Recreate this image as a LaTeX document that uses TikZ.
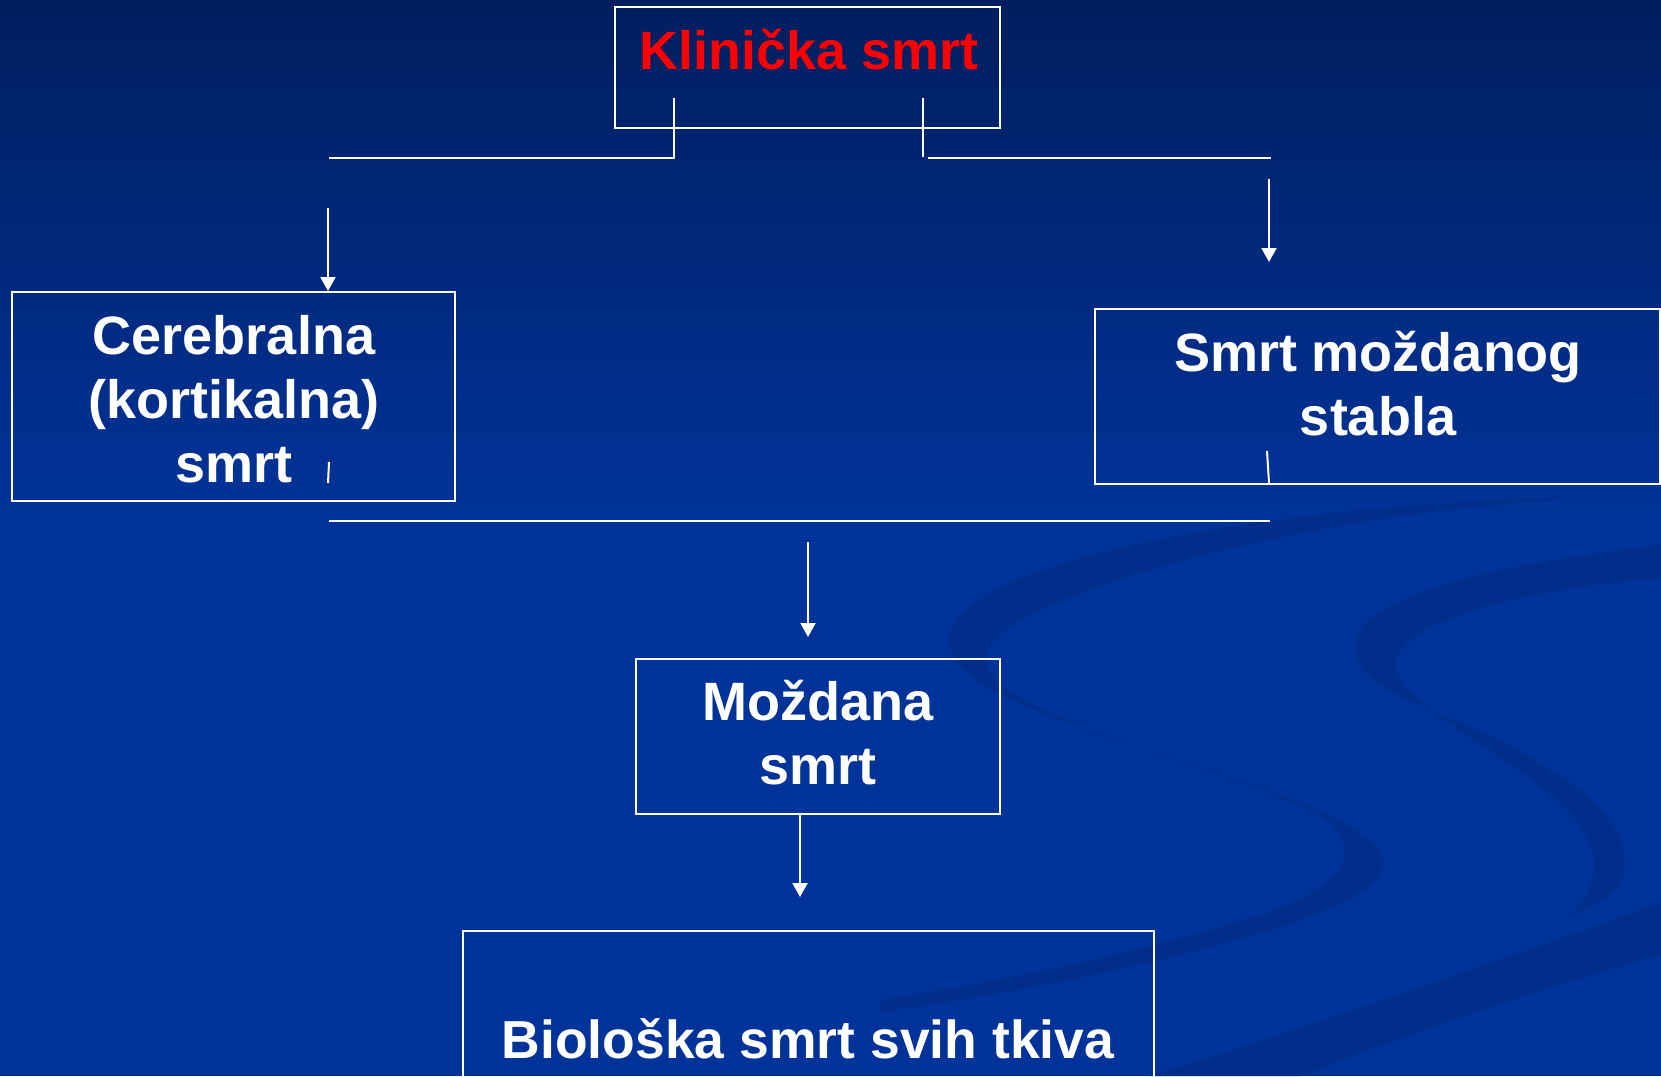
\documentclass[tikz,border=0pt]{standalone}
\usepackage{fontspec}
\setmainfont{Liberation Sans}
\usetikzlibrary{arrows.meta}
\definecolor{SlideTop}{RGB}{0,30,95}
\definecolor{SlideBlue}{RGB}{0,51,153}
\definecolor{SlideSwirl}{RGB}{0,46,138}
\definecolor{KRed}{RGB}{255,0,0}

\begin{document}
\begin{tikzpicture}[x=1pt,y=-1pt,
    box/.style={draw=white,line width=2pt,inner sep=0pt},
    txt/.style={text=white,font=\fontsize{54pt}{64pt}\selectfont\bfseries,align=center,anchor=base,inner sep=0pt},
    ln/.style={white,line width=2pt},
    arr/.style={white,line width=2pt,-{Triangle[width=15pt,length=14pt]}}]
    \useasboundingbox (0,0) rectangle (1661,1076);
    \clip (0,0) rectangle (1661,1076);
    % slide background
    \fill[SlideBlue] (0,0) rectangle (1661,1076);
    \shade[top color=SlideTop,bottom color=SlideBlue] (0,0) rectangle (1661,520);
    % swirls
    \fill[SlideSwirl] (1560,497) .. controls (1300,505) and (1020,550) .. (960,615)
      .. controls (930,650) and (960,680) .. (1040,712)
      .. controls (1150,755) and (1330,800) .. (1375,845)
      .. controls (1410,885) and (1330,915) .. (1200,950)
      .. controls (1100,975) and (1000,995) .. (880,1012) -- (880,1000)
      .. controls (1000,982) and (1150,950) .. (1250,918)
      .. controls (1360,885) and (1360,845) .. (1320,815)
      .. controls (1250,780) and (1120,745) .. (1040,708)
      .. controls (990,685) and (975,660) .. (995,640)
      .. controls (1040,590) and (1300,515) .. (1560,500) -- cycle;
    \fill[SlideSwirl] (1661,545) .. controls (1500,565) and (1380,590) .. (1358,635)
      .. controls (1345,665) and (1380,690) .. (1420,705)
      .. controls (1500,740) and (1620,790) .. (1625,860)
      .. controls (1628,890) and (1600,905) .. (1570,917)
      .. controls (1590,895) and (1600,870) .. (1590,845)
      .. controls (1570,790) and (1470,745) .. (1420,700)
      .. controls (1395,680) and (1390,660) .. (1405,645)
      .. controls (1440,610) and (1560,585) .. (1661,578) -- cycle;
    \fill[SlideSwirl] (1661,903) .. controls (1500,960) and (1300,1030) .. (1150,1076)
      -- (1300,1076) .. controls (1420,1030) and (1550,985) .. (1661,955) -- cycle;
    % boxes
    \node[box,minimum width=385pt,minimum height=121pt] (klin) at (807.5,67.5) {};
    \node[box,minimum width=443pt,minimum height=209pt] (cereb) at (233.5,396.5) {};
    \node[box,minimum width=565pt,minimum height=175pt] (stem) at (1377.5,396.5) {};
    \node[box,minimum width=364pt,minimum height=155pt] (mozd) at (818,736.5) {};
    \node[box,minimum width=691pt,minimum height=240pt] (bio) at (808.5,1051) {};
    % labels
    \node[txt,text=KRed] (klin-t) at (809,69) {Klinička smrt};
    \node[txt] (cereb-t) at (234,482) {Cerebralna\\(kortikalna)\\smrt};
    \node[txt] (stem-t) at (1378,435) {Smrt moždanog\\stabla};
    \node[txt] (mozd-t) at (818,784) {Moždana\\smrt};
    \node[txt,font=\fontsize{53.5pt}{64pt}\selectfont\bfseries] (bio-t) at (808,1058) {Biološka smrt svih tkiva};
    % branch lines under the top box
    \coordinate (lv) at (674,98);
    \coordinate (lc) at (674,158);
    \coordinate (lh) at (329,158);
    \draw[ln] (lv) -- (lc) -- (lh);
    \coordinate (rv) at (923,98);
    \coordinate (rc) at (923,157);
    \draw[ln] (rv) -- (rc);
    \coordinate (rh0) at (928,158);
    \coordinate (rh1) at (1271,158);
    \draw[ln] (rh0) -- (rh1);
    % arrows down to the two kinds
    \coordinate (la) at (328,208);
    \draw[arr] (la) -- (la |- cereb.north);
    \coordinate (ra) at (1269,179);
    \coordinate (ra1) at (1269,262);
    \draw[arr] (ra) -- (ra1);
    % small ticks inside boxes
    \coordinate (ct0) at (329,462);
    \coordinate (ct1) at (328,483);
    \draw[ln] (ct0) -- (ct1);
    \coordinate (st0) at (1267,451);
    \coordinate (st1) at (1269,483);
    \draw[ln] (st0) -- (st1);
    % joining line and arrow to brain death
    \coordinate (jl) at (329,521);
    \coordinate (jr) at (1270,521);
    \draw[ln] (jl) -- (jr);
    \coordinate (ma) at (808,542);
    \coordinate (ma1) at (808,637);
    \draw[arr] (ma) -- (ma1);
    % arrow to biological death
    \coordinate (ba) at (800,897);
    \draw[arr] (mozd.south -| ba) -- (ba);
\end{tikzpicture}
\end{document}
